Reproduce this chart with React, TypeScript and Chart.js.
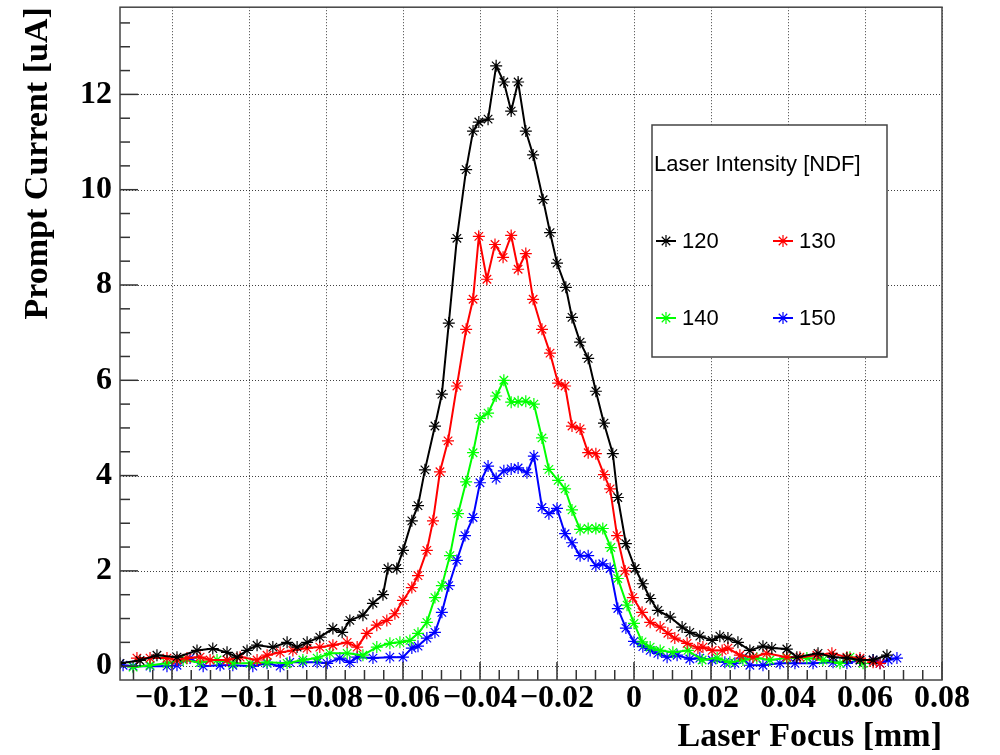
import React, { useEffect, useRef } from "react";
import { Chart, registerables } from "chart.js";

Chart.register(...registerables);

// ---- data (x in mm, y in uA) ----
const x120 = [-0.1335, -0.1283, -0.1239, -0.1187, -0.1135, -0.1094, -0.1057, -0.1031, -0.1005, -0.0979, -0.0938, -0.0901, -0.0875, -0.0849, -0.0816, -0.0782, -0.0758, -0.0738, -0.0704, -0.0678, -0.0652, -0.0639, -0.0616, -0.06, -0.0577, -0.0561, -0.0543, -0.0517, -0.0499, -0.0481, -0.046, -0.0436, -0.0418, -0.0403, -0.0379, -0.0358, -0.0338, -0.0319, -0.0301, -0.0281, -0.0262, -0.0236, -0.0218, -0.02, -0.0177, -0.0161, -0.014, -0.0119, -0.0099, -0.0078, -0.0055, -0.0042, -0.0021, 0.0003, 0.0023, 0.0042, 0.0062, 0.0094, 0.0125, 0.0145, 0.0171, 0.0203, 0.0223, 0.0244, 0.027, 0.0301, 0.0335, 0.0358, 0.0397, 0.0423, 0.0478, 0.0517, 0.0553, 0.0587, 0.0621, 0.0657];
const y120 = [0.06, 0.12, 0.23, 0.19, 0.33, 0.37, 0.29, 0.19, 0.33, 0.44, 0.4, 0.5, 0.4, 0.5, 0.61, 0.79, 0.71, 0.96, 1.07, 1.32, 1.5, 2.05, 2.05, 2.43, 3.05, 3.37, 4.12, 5.04, 5.71, 7.2, 8.98, 10.42, 11.23, 11.42, 11.48, 12.6, 12.26, 11.65, 12.26, 11.23, 10.73, 9.79, 9.1, 8.46, 7.95, 7.32, 6.8, 6.46, 5.77, 5.1, 4.46, 3.54, 2.57, 2.05, 1.73, 1.42, 1.17, 1.03, 0.82, 0.71, 0.63, 0.54, 0.63, 0.59, 0.5, 0.33, 0.42, 0.38, 0.36, 0.19, 0.27, 0.19, 0.17, 0.13, 0.13, 0.23];

const x130 = [-0.1291, -0.1257, -0.1213, -0.1187, -0.1161, -0.1127, -0.1101, -0.1057, -0.1023, -0.0979, -0.0953, -0.0919, -0.0886, -0.0849, -0.0816, -0.0782, -0.0745, -0.0719, -0.0694, -0.0668, -0.0642, -0.0621, -0.06, -0.0577, -0.0561, -0.0538, -0.0522, -0.0504, -0.0483, -0.046, -0.0436, -0.0418, -0.0403, -0.0382, -0.0361, -0.034, -0.0319, -0.0301, -0.0281, -0.0262, -0.0239, -0.0218, -0.0197, -0.0179, -0.0161, -0.014, -0.0119, -0.0099, -0.0078, -0.0062, -0.0044, -0.0023, -0.0003, 0.0021, 0.0042, 0.0068, 0.0088, 0.0106, 0.0138, 0.0166, 0.0179, 0.0203, 0.0229, 0.0244, 0.0275, 0.0309, 0.0345, 0.0397, 0.0431, 0.0475, 0.0514, 0.0553, 0.0587, 0.0621, 0.0639];
const y130 = [0.17, 0.17, 0.17, 0.13, 0.17, 0.19, 0.13, 0.13, 0.19, 0.13, 0.23, 0.29, 0.33, 0.38, 0.4, 0.44, 0.5, 0.4, 0.69, 0.86, 0.96, 1.1, 1.38, 1.65, 1.9, 2.43, 3.05, 4.08, 4.73, 5.88, 7.07, 7.7, 9.02, 8.12, 8.85, 8.58, 9.04, 8.33, 8.66, 7.7, 7.07, 6.57, 5.94, 5.88, 5.04, 4.98, 4.48, 4.46, 4.02, 3.72, 2.74, 2.0, 1.44, 1.13, 0.92, 0.82, 0.69, 0.59, 0.48, 0.38, 0.4, 0.33, 0.33, 0.38, 0.23, 0.19, 0.27, 0.19, 0.19, 0.23, 0.27, 0.19, 0.17, 0.08, 0.06];

const x140 = [-0.1301, -0.1257, -0.1213, -0.1171, -0.1127, -0.1083, -0.1042, -0.0997, -0.0953, -0.0901, -0.086, -0.0823, -0.079, -0.0745, -0.0704, -0.0668, -0.0634, -0.0608, -0.0582, -0.0561, -0.0538, -0.0517, -0.0499, -0.0478, -0.0457, -0.0436, -0.0418, -0.04, -0.0379, -0.0358, -0.0338, -0.0319, -0.0301, -0.0281, -0.026, -0.0239, -0.0221, -0.0197, -0.0179, -0.0161, -0.014, -0.0119, -0.0099, -0.0081, -0.006, -0.0042, -0.0018, 0.0, 0.0021, 0.0042, 0.0068, 0.0101, 0.014, 0.0177, 0.0216, 0.0249, 0.0283, 0.0319, 0.0353, 0.0397, 0.0449, 0.0491, 0.0535, 0.0561, 0.0595];
const y140 = [-0.02, 0.02, 0.06, 0.13, 0.08, 0.13, 0.06, 0.06, 0.08, 0.06, 0.13, 0.17, 0.27, 0.27, 0.23, 0.4, 0.48, 0.5, 0.54, 0.69, 0.92, 1.44, 1.69, 2.32, 3.2, 3.87, 4.48, 5.2, 5.31, 5.67, 6.0, 5.54, 5.55, 5.56, 5.5, 4.79, 4.13, 3.9, 3.72, 3.28, 2.87, 2.89, 2.89, 2.89, 2.49, 1.84, 1.28, 0.9, 0.51, 0.4, 0.33, 0.29, 0.33, 0.13, 0.17, 0.08, 0.13, 0.17, 0.13, 0.17, 0.17, 0.13, 0.06, 0.19, 0.06];

const x150 = [-0.1327, -0.1301, -0.1257, -0.1213, -0.1187, -0.1153, -0.1119, -0.1075, -0.1042, -0.099, -0.0953, -0.0919, -0.0894, -0.086, -0.0823, -0.0797, -0.0764, -0.0738, -0.0719, -0.0678, -0.0634, -0.06, -0.0577, -0.0561, -0.0538, -0.0517, -0.0499, -0.0481, -0.046, -0.0439, -0.0418, -0.04, -0.0379, -0.0358, -0.0338, -0.0319, -0.0301, -0.0278, -0.026, -0.0239, -0.0221, -0.02, -0.0179, -0.0161, -0.014, -0.0119, -0.0099, -0.0081, -0.0062, -0.0042, -0.0021, 0.0, 0.0023, 0.0042, 0.0062, 0.0086, 0.0112, 0.0145, 0.0171, 0.0203, 0.0236, 0.0262, 0.0281, 0.0301, 0.0335, 0.0379, 0.0418, 0.0465, 0.0517, 0.0553, 0.0587, 0.0621, 0.0639, 0.066, 0.0683];
const y150 = [0.02, 0.0, 0.0, 0.0, 0.02, 0.17, 0.0, 0.02, 0.02, 0.0, 0.06, 0.0, 0.08, 0.08, 0.08, 0.06, 0.17, 0.08, 0.19, 0.17, 0.19, 0.19, 0.38, 0.42, 0.59, 0.71, 1.13, 1.69, 2.22, 2.74, 3.12, 3.85, 4.2, 3.94, 4.1, 4.14, 4.16, 4.06, 4.41, 3.33, 3.2, 3.31, 2.78, 2.59, 2.32, 2.32, 2.11, 2.15, 2.05, 1.21, 0.8, 0.52, 0.41, 0.33, 0.27, 0.19, 0.23, 0.15, 0.17, 0.13, 0.08, 0.06, 0.17, 0.02, 0.02, 0.06, 0.06, 0.06, 0.08, 0.06, 0.13, 0.13, 0.06, 0.13, 0.17];

const seriesLabels = ["120", "130", "140", "150"];
const seriesColors = ["#000000", "#ff0000", "#00ff00", "#0000ff"];
const seriesX = [x120, x130, x140, x150];
const seriesY = [y120, y130, y140, y150];

const xTicks = [-0.12, -0.1, -0.08, -0.06, -0.04, -0.02, 0, 0.02, 0.04, 0.06, 0.08];
const yTicks = [0, 2, 4, 6, 8, 10, 12];

const legendTitle = "Laser Intensity [NDF]";
const xTitle = "Laser Focus [mm]";
const yTitle = "Prompt Current [uA]";

const X_MIN = -0.1335;
const X_MAX = 0.08;
const Y_MIN = -0.29;
const Y_MAX = 13.83;

const SERIF = "'Liberation Serif', 'Times New Roman', serif";
const SANS = "'Liberation Sans', Arial, sans-serif";

function fmtTick(v: number): string {
  const r = Math.round(v * 1000) / 1000;
  if (r === 0) return "0";
  const s = String(Math.abs(r));
  return r < 0 ? "\u2212" + s : s;
}

function drawStar(ctx: CanvasRenderingContext2D, x: number, y: number, r: number) {
  ctx.beginPath();
  ctx.moveTo(x - r, y);
  ctx.lineTo(x + r, y);
  ctx.moveTo(x, y - r);
  ctx.lineTo(x, y + r);
  const d = r * 0.7071;
  ctx.moveTo(x - d, y - d);
  ctx.lineTo(x + d, y + d);
  ctx.moveTo(x - d, y + d);
  ctx.lineTo(x + d, y - d);
  ctx.stroke();
}

const rootDecor = {
  id: "rootDecor",
  beforeDatasetsDraw(chart: any) {
    const { ctx, chartArea: a, scales } = chart;
    const xs = scales.x;
    const ys = scales.y;
    ctx.save();
    ctx.strokeStyle = "rgba(0,0,0,0.75)";
    ctx.lineWidth = 1;
    ctx.setLineDash([1, 2]);
    for (const t of xTicks) {
      const px = Math.round(xs.getPixelForValue(t)) + 0.5;
      ctx.beginPath();
      ctx.moveTo(px, a.top);
      ctx.lineTo(px, a.bottom);
      ctx.stroke();
    }
    for (const t of yTicks) {
      const py = Math.round(ys.getPixelForValue(t)) + 0.5;
      ctx.beginPath();
      ctx.moveTo(a.left, py);
      ctx.lineTo(a.right, py);
      ctx.stroke();
    }
    ctx.restore();
  },
  afterDatasetsDraw(chart: any) {
    const { ctx, chartArea: a, scales } = chart;
    const xs = scales.x;
    const ys = scales.y;
    ctx.save();
    // ticks (inside)
    ctx.strokeStyle = "#333";
    ctx.lineWidth = 1.5;
    for (let i = -26; i <= 16; i++) {
      const v = i * 0.005;
      if (v < X_MIN || v > X_MAX) continue;
      const px = xs.getPixelForValue(v);
      const len = i % 4 === 0 ? 18 : 10;
      ctx.beginPath();
      ctx.moveTo(px, a.bottom);
      ctx.lineTo(px, a.bottom - len);
      ctx.stroke();
    }
    for (let i = 0; i <= 27; i++) {
      const v = i * 0.5;
      if (v > Y_MAX) continue;
      const py = ys.getPixelForValue(v);
      const len = i % 4 === 0 ? 18 : 10;
      ctx.beginPath();
      ctx.moveTo(a.left, py);
      ctx.lineTo(a.left + len, py);
      ctx.stroke();
    }
    // frame
    ctx.strokeStyle = "#444";
    ctx.lineWidth = 1.5;
    ctx.strokeRect(a.left, a.top, a.right - a.left, a.bottom - a.top);

    // legend box
    const lx = 652, ly = 125, lw = 235, lh = 232;
    ctx.fillStyle = "#fff";
    ctx.fillRect(lx, ly, lw, lh);
    ctx.strokeStyle = "#444";
    ctx.lineWidth = 1.5;
    ctx.strokeRect(lx, ly, lw, lh);
    ctx.fillStyle = "#000";
    ctx.font = `22px ${SANS}`;
    ctx.textBaseline = "middle";
    ctx.textAlign = "left";
    ctx.fillText(legendTitle, lx + 2, ly + 40);
    const cols = [lx + 4, lx + 121];
    const rows = [ly + 116, ly + 193];
    for (let i = 0; i < seriesLabels.length; i++) {
      const cx = cols[i % 2];
      const cy = rows[Math.floor(i / 2)];
      ctx.strokeStyle = seriesColors[i];
      ctx.lineWidth = 2;
      ctx.beginPath();
      ctx.moveTo(cx, cy);
      ctx.lineTo(cx + 20, cy);
      ctx.stroke();
      ctx.lineWidth = 1.2;
      drawStar(ctx, cx + 10, cy, 6);
      ctx.fillStyle = "#000";
      ctx.fillText(seriesLabels[i], cx + 26, cy + 1);
    }
    ctx.restore();
  },
};

export default function App() {
  const ref = useRef<HTMLCanvasElement | null>(null);
  useEffect(() => {
    document.body.style.margin = "0";
    if (!ref.current) return;
    const datasets = seriesLabels.map((lab, i) => ({
      label: lab,
      data: seriesX[i].map((x, j) => ({ x, y: seriesY[i][j] })),
      borderColor: seriesColors[i],
      backgroundColor: seriesColors[i],
      borderWidth: 2,
      pointStyle: "star" as const,
      pointRadius: 6,
      pointBorderWidth: 1.2,
      pointBorderColor: seriesColors[i],
      pointBackgroundColor: seriesColors[i],
      tension: 0,
    }));
    const tickFont = { family: SERIF, size: 32, weight: "bold" as const };
    const titleFont = { family: SERIF, size: 34, weight: "bold" as const, lineHeight: 1 };
    const chart = new Chart(ref.current, {
      type: "line",
      data: { datasets },
      options: {
        animation: false,
        responsive: false,
        maintainAspectRatio: false,
        layout: { padding: { top: 5, right: 58, left: 0, bottom: 0 } },
        plugins: { legend: { display: false }, tooltip: { enabled: false } },
        scales: {
          x: {
            type: "linear",
            min: X_MIN,
            max: X_MAX,
            grid: { display: false, drawTicks: false },
            border: { display: false },
            afterFit: (s: any) => {
              s.height = 75;
              s.paddingLeft = 0;
              s.paddingRight = 0;
              s.paddingTop = 0;
              s.paddingBottom = 0;
            },
            afterBuildTicks: (s: any) => { s.ticks = xTicks.map((v) => ({ value: v })); },
            ticks: {
              autoSkip: false,
              maxRotation: 0,
              minRotation: 0,
              includeBounds: false,
              color: "#000",
              font: tickFont,
              padding: 0,
              callback: (v: any) => fmtTick(Number(v)),
            },
            title: {
              display: true,
              text: xTitle,
              align: "end",
              color: "#000",
              font: titleFont,
              padding: { top: 0, bottom: 1 },
            },
          },
          y: {
            type: "linear",
            min: Y_MIN,
            max: Y_MAX,
            grid: { display: false, drawTicks: false },
            border: { display: false },
            afterFit: (s: any) => {
              s.width = 120;
              s.paddingLeft = 0;
              s.paddingRight = 0;
              s.paddingTop = 0;
              s.paddingBottom = 0;
            },
            afterBuildTicks: (s: any) => { s.ticks = yTicks.map((v) => ({ value: v })); },
            ticks: {
              autoSkip: false,
              includeBounds: false,
              color: "#000",
              font: tickFont,
              padding: 8,
              callback: (v: any) => fmtTick(Number(v)),
            },
            title: {
              display: true,
              text: yTitle,
              align: "end",
              color: "#000",
              font: titleFont,
              padding: { top: 21, bottom: 0 },
            },
          },
        },
      },
      plugins: [rootDecor],
    });
    return () => chart.destroy();
  }, []);
  return (
    <div style={{ width: 1000, height: 755, background: "#fff" }}>
      <canvas ref={ref} width={1000} height={755} style={{ display: "block" }} />
    </div>
  );
}
